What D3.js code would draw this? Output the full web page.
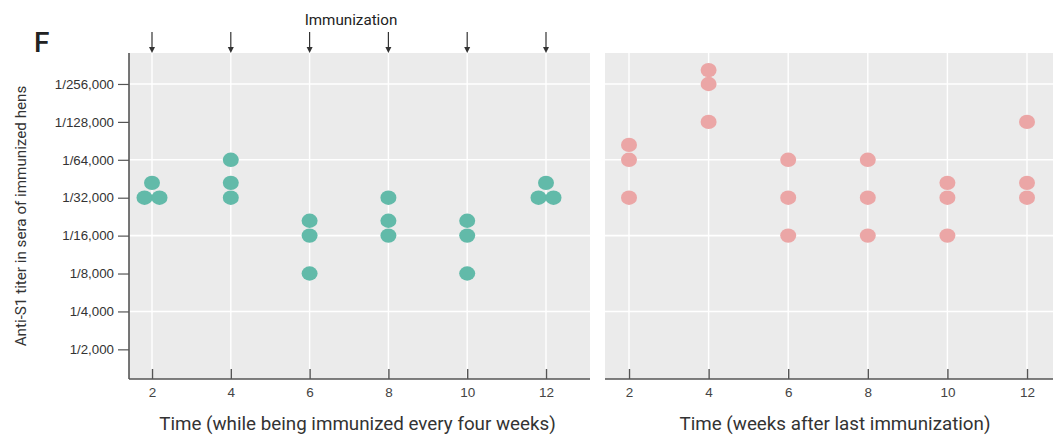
<!DOCTYPE html>
<html>
<head>
<meta charset="utf-8">
<script src="https://cdn.jsdelivr.net/npm/d3@7"></script>
<style>
  html, body { margin: 0; padding: 0; background: #fff; }
  svg { display: block; font-family: Roboto, "Noto Sans", sans-serif; }
</style>
</head>
<body>
<svg id="chart" width="1053" height="435"></svg>
<script>
// ---- data ----
const weeks = [2, 4, 6, 8, 10, 12];
const yTickValues = [256000, 128000, 64000, 32000, 16000, 8000, 4000, 2000];
const yTickLabels = ["1/256,000", "1/128,000", "1/64,000", "1/32,000", "1/16,000", "1/8,000", "1/4,000", "1/2,000"];
const gridValues = [256000, 64000, 16000, 4000];
// reciprocal titers of the three hens at each week
const immunizedWeek = [2, 2, 2, 4, 4, 4, 6, 6, 6, 8, 8, 8, 10, 10, 10, 12, 12, 12];
const immunizedTiter = [32000, 32000, 42000, 64000, 42000, 32000, 21000, 16000, 8000,
                        32000, 21000, 16000, 21000, 16000, 8000, 42000, 32000, 32000];
const afterWeek = [2, 2, 2, 4, 4, 4, 6, 6, 6, 8, 8, 8, 10, 10, 10, 12, 12, 12];
const afterTiter = [84000, 64000, 32000, 330000, 256000, 128000, 64000, 32000, 16000,
                    64000, 32000, 16000, 42000, 32000, 16000, 128000, 42000, 32000];
const immunizationWeeks = [2, 4, 6, 8, 10, 12];

const svg = d3.select("#chart");
const plotTop = 53, plotBottom = 379;

const y = d3.scaleLog().base(2).domain([1163, 451000]).range([plotBottom, plotTop]);

const panels = [
  { x0: 129, x1: 590, r: [152, 546], weeks: immunizedWeek, titers: immunizedTiter, color: "#62baa9",
    title: "Time (while being immunized every four weeks)", titleShift: -2, yAxis: true },
  { x0: 605, x1: 1053, r: [629, 1027], weeks: afterWeek, titers: afterTiter, color: "#eba6a6",
    title: "Time (weeks after last immunization)", titleShift: 6, yAxis: false }
];

panels.forEach(p => {
  const x = d3.scaleLinear().domain([2, 12]).range(p.r);
  const g = svg.append("g");
  g.append("rect").attr("x", p.x0).attr("y", plotTop).attr("width", p.x1 - p.x0).attr("height", plotBottom - plotTop)
    .attr("fill", "#ebebeb");
  // grid
  g.selectAll(".hg").data(gridValues).join("line")
    .attr("x1", p.x0).attr("x2", p.x1).attr("y1", d => y(d)).attr("y2", d => y(d))
    .attr("stroke", "#fff").attr("stroke-width", 1.6);
  g.selectAll(".vg").data(weeks).join("line")
    .attr("x1", d => x(d)).attr("x2", d => x(d)).attr("y1", plotTop).attr("y2", plotBottom)
    .attr("stroke", "#fff").attr("stroke-width", 1.4);

  // points with horizontal spreading of identical values
  const pts = p.weeks.map((w, i) => ({ w, t: p.titers[i] }));
  const groups = d3.group(pts, d => d.w + "_" + d.t);
  groups.forEach(arr => {
    arr.forEach((d, i) => { d.off = (i - (arr.length - 1) / 2) * 15; });
  });
  g.selectAll(".pt").data(pts).join("ellipse")
    .attr("cx", d => x(d.w) + d.off).attr("cy", d => y(d.t))
    .attr("rx", 8).attr("ry", 7.2).attr("fill", p.color);

  // x axis
  const xa = g.append("g").attr("transform", `translate(0,${plotBottom})`)
    .call(d3.axisBottom(x).tickValues(weeks).tickSizeInner(-10).tickSizeOuter(0).tickPadding(8));
  xa.select(".domain").attr("d", `M${p.x0},0H${p.x1}`).attr("stroke", "#555").attr("stroke-width", 1.6);
  xa.selectAll(".tick line").attr("stroke", "#555").attr("stroke-width", 1.4);
  xa.selectAll(".tick text").attr("fill", "#444").attr("font-size", 13.5);

  g.append("text").attr("x", (p.x0 + p.x1) / 2 + p.titleShift).attr("y", 430)
    .attr("text-anchor", "middle").attr("font-size", 18.8).attr("fill", "#333").text(p.title);

  if (p.yAxis) {
    const ya = g.append("g").attr("transform", `translate(${p.x0},0)`)
      .call(d3.axisLeft(y).tickValues(yTickValues).tickFormat((d, i) => yTickLabels[i])
        .tickSizeInner(11).tickSizeOuter(0).tickPadding(4));
    ya.select(".domain").attr("d", `M0,${plotTop}V${plotBottom}`).attr("stroke", "#555").attr("stroke-width", 1.6);
    ya.selectAll(".tick line").attr("stroke", "#555").attr("stroke-width", 1.2);
    ya.selectAll(".tick text").attr("fill", "#333").attr("font-size", 13.3);

    // immunization arrows
    const ag = g.append("g");
    ag.selectAll("line").data(immunizationWeeks).join("line")
      .attr("x1", d => x(d)).attr("x2", d => x(d)).attr("y1", 32).attr("y2", 51)
      .attr("stroke", "#333").attr("stroke-width", 1.2);
    ag.selectAll("path").data(immunizationWeeks).join("path")
      .attr("d", d => `M${x(d) - 3},${47}L${x(d)},${53}L${x(d) + 3},${47}Z`)
      .attr("fill", "#333");
    ag.append("text").attr("x", (x(6) + x(8)) / 2 + 2).attr("y", 25).attr("text-anchor", "middle")
      .attr("font-size", 15.2).attr("fill", "#222").text("Immunization");
  }
});

svg.append("text").attr("transform", `translate(26,216) rotate(-90)`).attr("text-anchor", "middle")
  .attr("font-size", 15.2).attr("fill", "#333").text("Anti-S1 titer in sera of immunized hens");

svg.append("text").attr("x", 34).attr("y", 52).attr("font-size", 28).attr("font-weight", 500)
  .attr("fill", "#222").text("F");
</script>
</body>
</html>
